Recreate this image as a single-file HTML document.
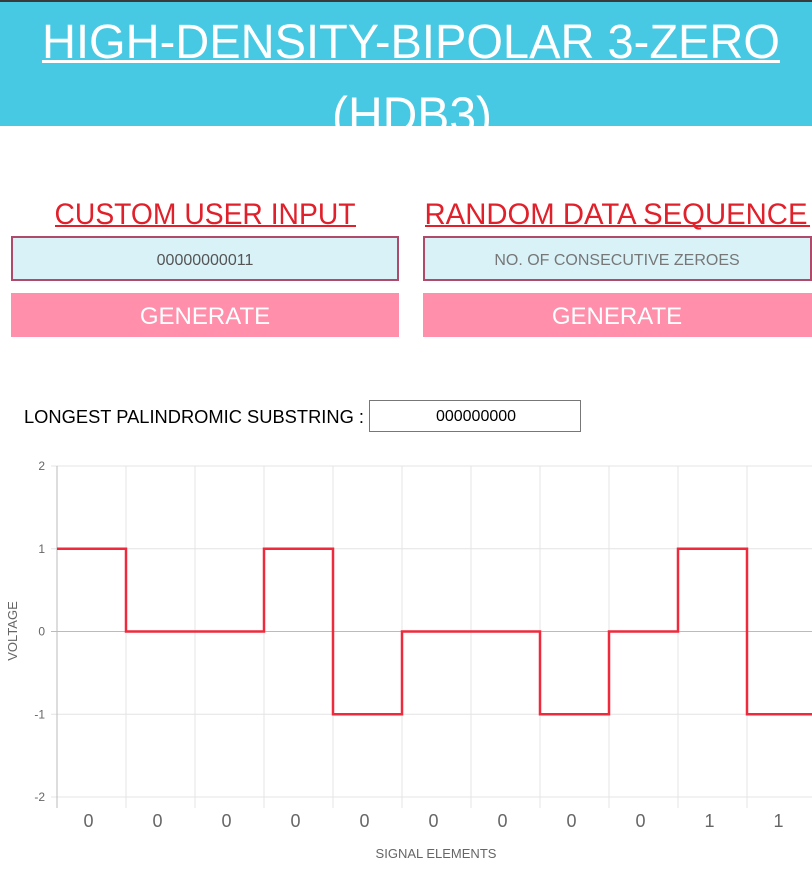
<!DOCTYPE html>
<html><head><meta charset="utf-8"><style>
html,body{margin:0;padding:0;background:#fff;width:812px;height:880px;overflow:hidden}
svg{display:block;font-family:"Liberation Sans",sans-serif}
</style></head><body>
<svg width="812" height="880" viewBox="0 0 812 880">
<rect x="0" y="0" width="812" height="126" fill="#48c9e3"/>
<rect x="0" y="0" width="812" height="2" fill="#3a3a3a"/>
<text x="411" y="58" text-anchor="middle" font-size="48" fill="#fff" textLength="738" lengthAdjust="spacingAndGlyphs">HIGH-DENSITY-BIPOLAR 3-ZERO</text>
<rect x="42" y="60" width="738" height="3" fill="#fff"/>
<clipPath id="hc"><rect x="0" y="0" width="812" height="126"/></clipPath>
<text x="412" y="132" text-anchor="middle" font-size="50" fill="#fff" clip-path="url(#hc)" textLength="160" lengthAdjust="spacingAndGlyphs">(HDB3)</text>

<text x="205" y="224" text-anchor="middle" font-size="30" fill="#e0202a" textLength="301" lengthAdjust="spacingAndGlyphs">CUSTOM USER INPUT</text>
<rect x="55" y="225" width="301" height="2" fill="#e0202a"/>
<text x="616" y="224" text-anchor="middle" font-size="30" fill="#e0202a" textLength="383" lengthAdjust="spacingAndGlyphs">RANDOM DATA SEQUENCE</text>
<rect x="425" y="225" width="385" height="2" fill="#e0202a"/>

<rect x="12" y="237" width="386" height="43" fill="#d9f2f8" stroke="#b04a6a" stroke-width="2"/>
<text x="205" y="265" text-anchor="middle" font-size="16" fill="#555">00000000011</text>
<rect x="424" y="237" width="387" height="43" fill="#d9f2f8" stroke="#b04a6a" stroke-width="2"/>
<text x="617" y="265" text-anchor="middle" font-size="16" fill="#777">NO. OF CONSECUTIVE ZEROES</text>

<rect x="11" y="293" width="388" height="44" fill="#ff8fab"/>
<text x="205" y="324" text-anchor="middle" font-size="24" fill="#fff">GENERATE</text>
<rect x="423" y="293" width="389" height="44" fill="#ff8fab"/>
<text x="617" y="324" text-anchor="middle" font-size="24" fill="#fff">GENERATE</text>

<text x="24" y="423" font-size="18" fill="#000" textLength="340" lengthAdjust="spacingAndGlyphs">LONGEST PALINDROMIC SUBSTRING :</text>
<rect x="369.5" y="400.5" width="211" height="31" fill="#fff" stroke="#777" stroke-width="1"/>
<text x="476" y="421" text-anchor="middle" font-size="16" fill="#000">000000000</text>

<g id="chart"></g>
</svg>
<script>
const categories = ["0","0","0","0","0","0","0","0","0","1","1"];
const voltages = [1,0,0,1,-1,0,0,-1,0,1,-1];
const yTicks = [2,1,0,-1,-2];
const NS="http://www.w3.org/2000/svg";
const g=document.getElementById('chart');
const x0=57, step=69, yTop=466, yBot=797;
const xs=i=>x0+i*step;
const ys=v=>yTop+(2-v)*(yBot-yTop)/4;
function mk(t,a){const e=document.createElementNS(NS,t);for(const k in a)e.setAttribute(k,a[k]);g.appendChild(e);return e;}
yTicks.forEach(v=>{
  const l=mk('line',{x1:x0-6,x2:812,y1:ys(v),y2:ys(v),stroke:v===0?'#bbb':'#e4e4e4','stroke-width':1});
  
  
  const t=mk('text',{x:x0-12,y:ys(v)+4,'text-anchor':'end','font-size':12,fill:'#666'});
  t.textContent=v;
  
  
});
for(let i=0;i<=categories.length;i++){
  const l=mk('line',{x1:xs(i),x2:xs(i),y1:yTop,y2:yBot+11,stroke:i===0?'#bbb':'#e4e4e4','stroke-width':1});
  
  
}
categories.forEach((c,i)=>{
  const t=mk('text',{x:xs(i)+step/2-3,y:827,'text-anchor':'middle','font-size':18,fill:'#666'});
  t.textContent=c;
  
  
});
let d='';
voltages.forEach((v,i)=>{d+=(i===0?'M':'L')+xs(i)+' '+ys(v)+' L'+xs(i+1)+' '+ys(v)+' ';});
const p=mk('path',{d:d,fill:'none',stroke:'#ee2a3c','stroke-width':2.5});


const xt=mk('text',{x:436,y:858,'text-anchor':'middle','font-size':13,fill:'#666'});
xt.textContent='SIGNAL ELEMENTS';


const yt=mk('text',{x:0,y:0,'text-anchor':'middle','font-size':13,fill:'#666',transform:'translate(17,631) rotate(-90)'});
yt.textContent='VOLTAGE';


</script>
</body></html>
